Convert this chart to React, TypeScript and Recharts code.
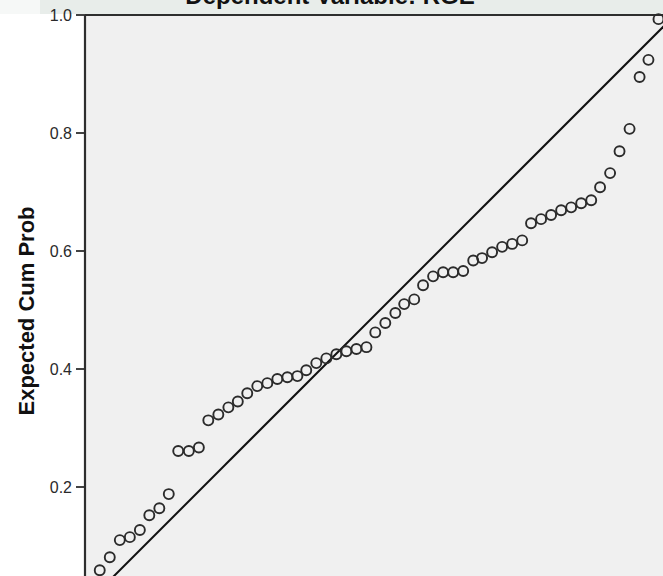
import React from "react";
import {
  ScatterChart,
  Scatter,
  XAxis,
  YAxis,
  CartesianGrid,
  ReferenceLine,
} from "recharts";

const observed = [
  0.025, 0.042, 0.059, 0.076, 0.093, 0.109, 0.126, 0.142, 0.158, 0.176,
  0.193, 0.209, 0.226, 0.243, 0.259, 0.275, 0.292, 0.309, 0.326, 0.343,
  0.36, 0.375, 0.392, 0.409, 0.426, 0.443, 0.46, 0.477, 0.492, 0.509,
  0.526, 0.541, 0.558, 0.573, 0.59, 0.607, 0.624, 0.641, 0.658, 0.673,
  0.69, 0.707, 0.724, 0.741, 0.756, 0.773, 0.79, 0.807, 0.824, 0.841,
  0.858, 0.873, 0.89, 0.906, 0.923, 0.94, 0.955, 0.972,
];
const expected = [
  0.059, 0.081, 0.11, 0.115, 0.127, 0.152, 0.164, 0.188, 0.261, 0.261,
  0.267, 0.313, 0.323, 0.335, 0.345, 0.359, 0.371, 0.376, 0.383, 0.386,
  0.388, 0.398, 0.41, 0.418, 0.425, 0.43, 0.434, 0.437, 0.462, 0.478,
  0.495, 0.51, 0.518, 0.542, 0.557, 0.564, 0.564, 0.566, 0.584, 0.588,
  0.598, 0.607, 0.612, 0.618, 0.647, 0.654, 0.661, 0.669, 0.674, 0.681,
  0.686, 0.708, 0.732, 0.769, 0.807, 0.895, 0.924, 0.993,
];
const yTicks = [0, 0.2, 0.4, 0.6, 0.8, 1.0];
const diagonal = [
  { x: 0, y: 0 },
  { x: 1, y: 1 },
];

const points = observed.map((x, i) => ({ x, y: expected[i] }));

const FONT = "'Liberation Sans', Arial, sans-serif";

const Ring = (props: any) => (
  <circle cx={props.cx} cy={props.cy} r={5} fill="none" stroke="#2b2b2b" strokeWidth={1.9} />
);

export default function App() {
  return (
    <div
      style={{
        position: "absolute",
        left: 0,
        top: 0,
        width: 663,
        height: 576,
        overflow: "hidden",
        background: "#fff",
      }}
    >
      <svg width={663} height={576} style={{ position: "absolute", left: 0, top: 0 }}>
        <rect x={0} y={0} width={663} height={14} fill="#e8edea" />
        <rect x={0} y={0} width={40} height={14} fill="#f6f8f7" />
        <text
          x={330}
          y={4}
          textAnchor="middle"
          fontFamily={FONT}
          fontWeight="bold"
          fontSize={24}
          fill="#111"
        >
          Dependent Variable: RGE
        </text>
        <text
          x={0}
          y={0}
          transform="translate(34,311) rotate(-90)"
          textAnchor="middle"
          fontFamily={FONT}
          fontWeight="bold"
          fontSize={22}
          fill="#111"
        >
          Expected Cum Prob
        </text>
      </svg>
      <div style={{ position: "absolute", left: 0, top: 0 }}>
        <ScatterChart width={700} height={640} margin={{ top: 15, right: 25, left: 0, bottom: 35 }}>
          <CartesianGrid fill="#f0f0f0" horizontal={false} vertical={false} />
          <XAxis type="number" dataKey="x" domain={[0, 1]} ticks={yTicks} hide />
          <YAxis
            type="number"
            dataKey="y"
            domain={[0, 1]}
            ticks={yTicks}
            interval={0}
            width={85}
            tickSize={9}
            tickMargin={4}
            tickFormatter={(v: number) => v.toFixed(1)}
            axisLine={{ stroke: "#2e2e2e", strokeWidth: 2.2 }}
            tickLine={{ stroke: "#2e2e2e", strokeWidth: 1.8 }}
            tick={{ fontSize: 16, fill: "#2a2a2a", fontFamily: FONT }}
          />
          <ReferenceLine y={1} stroke="#2e2e2e" strokeWidth={2.2} />
          <ReferenceLine x={1} stroke="#2e2e2e" strokeWidth={2.2} />
          <ReferenceLine segment={diagonal} stroke="#111" strokeWidth={2} />
          <Scatter data={points} shape={Ring} isAnimationActive={false} />
        </ScatterChart>
      </div>
    </div>
  );
}
